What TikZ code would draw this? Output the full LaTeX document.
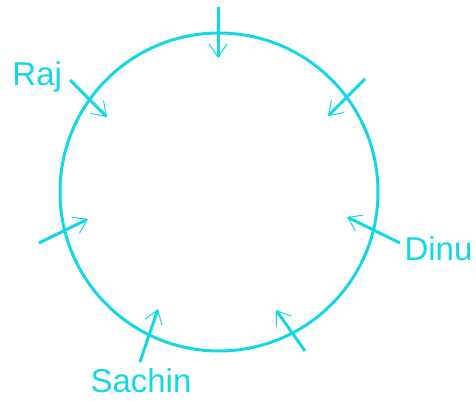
\documentclass[tikz,border=0pt]{standalone}
\usepackage{fontspec}
\setmainfont{Liberation Sans}
\usetikzlibrary{arrows.meta}
\definecolor{ringcyan}{RGB}{20,215,230}

\begin{document}
\begin{tikzpicture}[x=1pt, y=1pt, line width=3pt, draw=ringcyan,
    every node/.style={font=\fontsize{33}{36}\selectfont, text=ringcyan, inner sep=0pt},
    seat/.style={-{Straight Barb[length=13pt, width=18pt, line width=1pt]}}]
    \useasboundingbox (0,0) rectangle (476,400);

    % Round table
    \node[circle, draw, minimum size=318pt] (table) at (219,208) {};

    % Outer ends of the arrows
    \coordinate (s1) at (218,393);
    \coordinate (s2) at (70,320);
    \coordinate (s3) at (365,321);
    \coordinate (s4) at (400,157);
    \coordinate (s5) at (305,49);
    \coordinate (s6) at (140,38);
    \coordinate (s7) at (39,157);

    % Inner ends (tips)
    \coordinate (e1) at (218,342);
    \coordinate (e2) at (107,283);
    \coordinate (e3) at (328,284);
    \coordinate (e4) at (347,183);
    \coordinate (e5) at (276,90);
    \coordinate (e6) at (158,91);
    \coordinate (e7) at (88,181);

    % Arrows
    \foreach \i in {1,...,7} {
        \draw[seat] (s\i) -- (e\i);
    }

    % Names
    \node[anchor=base west] (raj) at (11,315) {Raj};
    \node[anchor=base west] (dinu) at (403,140) {Dinu};
    \node[anchor=base west] (sachin) at (89,8) {Sachin};
\end{tikzpicture}
\end{document}
